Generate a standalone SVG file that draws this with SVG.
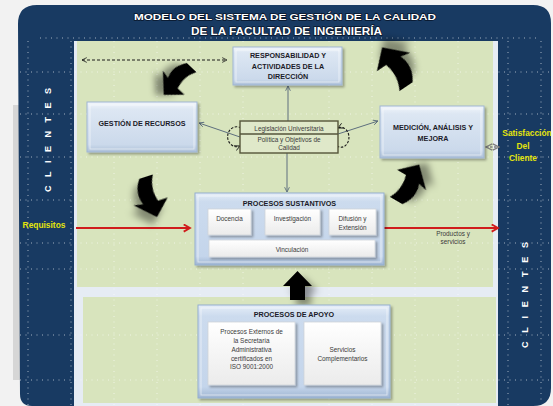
<svg xmlns="http://www.w3.org/2000/svg" width="553" height="406" viewBox="0 0 553 406">
<defs>
  <style>
    .t { font-family: "Liberation Sans", Arial, sans-serif; }
    .nt { font-family: "Liberation Sans", Arial, sans-serif; font-weight: bold; font-size: 7.2px; fill: #1b1b28; text-anchor: middle; }
    .st { font-family: "Liberation Sans", Arial, sans-serif; font-size: 6.4px; fill: #3a3a3a; text-anchor: middle; }
    .yl { font-family: "Liberation Sans", Arial, sans-serif; font-weight: bold; font-size: 8.4px; fill: #e4e40c; text-anchor: middle; }
    .cl { font-family: "Liberation Sans", Arial, sans-serif; font-weight: bold; font-size: 9px; fill: #ffffff; text-anchor: middle; }
    .box { fill: url(#gBox); stroke: #9fb6d4; stroke-width: 1; filter: url(#sh); }
    .bev { fill: none; stroke: #ffffff; stroke-opacity: 0.55; stroke-width: 1; }
    .cont { fill: url(#gCont); stroke: #93aed0; stroke-width: 1; filter: url(#sh); }
    .sub { fill: url(#gSub); stroke: #cfd4da; stroke-width: 0.8; filter: url(#sh); }
    .con { fill: none; stroke: #5e6f7e; stroke-width: 1; }
    .red { fill: none; stroke: #d01c1c; stroke-width: 2; }
    .grid { fill: none; stroke: #ffffff; stroke-opacity: 0.6; stroke-width: 1; stroke-dasharray: 1 4.5; }
    .blk { fill: #050505; filter: url(#ash); }
  </style>
  <linearGradient id="gBox" x1="0" y1="0" x2="0" y2="1">
    <stop offset="0" stop-color="#f2f6fb"/>
    <stop offset="0.15" stop-color="#dde7f3"/>
    <stop offset="0.85" stop-color="#cbd9eb"/>
    <stop offset="1" stop-color="#adc0d8"/>
  </linearGradient>
  <linearGradient id="gCont" x1="0" y1="0" x2="0" y2="1">
    <stop offset="0" stop-color="#e6eef8"/>
    <stop offset="0.12" stop-color="#ccdbee"/>
    <stop offset="0.88" stop-color="#c4d5eb"/>
    <stop offset="1" stop-color="#9fb5d2"/>
  </linearGradient>
  <linearGradient id="gSub" x1="0" y1="0" x2="0" y2="1">
    <stop offset="0" stop-color="#ffffff"/>
    <stop offset="1" stop-color="#ebebeb"/>
  </linearGradient>
  <filter id="sh" x="-20%" y="-20%" width="150%" height="160%">
    <feGaussianBlur in="SourceAlpha" stdDeviation="1.2"/>
    <feOffset dx="1.5" dy="2" result="b"/>
    <feFlood flood-color="#000000" flood-opacity="0.3"/>
    <feComposite in2="b" operator="in"/>
    <feMerge><feMergeNode/><feMergeNode in="SourceGraphic"/></feMerge>
  </filter>
  <filter id="ash" x="-50%" y="-50%" width="220%" height="220%">
    <feGaussianBlur in="SourceAlpha" stdDeviation="3.5"/>
    <feOffset dx="6" dy="6" result="b"/>
    <feFlood flood-color="#000000" flood-opacity="0.4"/>
    <feComposite in2="b" operator="in"/>
    <feMerge><feMergeNode/><feMergeNode in="SourceGraphic"/></feMerge>
  </filter>
  <marker id="mG" viewBox="0 0 10 10" refX="9" refY="5" markerWidth="6" markerHeight="6" orient="auto-start-reverse">
    <path d="M1,1 L9,5 L1,9" fill="none" stroke="#5e6f7e" stroke-width="1.5"/>
  </marker>
  <marker id="mR" viewBox="0 0 10 10" refX="8" refY="5" markerWidth="4.5" markerHeight="4.5" orient="auto-start-reverse">
    <path d="M1,1 L8,5 L1,9" fill="none" stroke="#d01c1c" stroke-width="2"/>
  </marker>
  <marker id="mK" viewBox="0 0 10 10" refX="9" refY="5" markerWidth="6" markerHeight="6" orient="auto-start-reverse">
    <path d="M1,1 L9,5 L1,9" fill="none" stroke="#1a1a1a" stroke-width="1.3"/>
  </marker>
  <marker id="mD" viewBox="0 0 10 10" refX="9" refY="5" markerWidth="6" markerHeight="6" orient="auto-start-reverse">
    <path d="M1,1 L9,5 L1,9" fill="none" stroke="#7d7d7d" stroke-width="1.6"/>
  </marker>
  <path id="carrow" d="M0,6 Q12,15 25,10 L23,19 L41,1 L26,-15 L26,-5 Q12,-1 0,-8 Z"/>
</defs>

<!-- background and frame -->
<rect x="0" y="0" width="553" height="406" fill="#f2f2f2"/>
<rect x="13" y="105" width="8" height="275" fill="#d6d6d6"/>
<path d="M18,24 Q18,5 37,5 L533,5 Q551,5 551,23 L551,388 Q551,406 533,406 L32,406 Q20,406 20,394 Z" fill="#183a62"/>
<rect x="74" y="41" width="424" height="365" fill="#e6ecf4"/>
<rect x="77" y="41" width="416" height="246" fill="#d8e4bd"/>
<rect x="83" y="297" width="413" height="106" fill="#d8e4bd"/>

<!-- dotted grid -->
<g id="grid">
  <path class="grid" d="M28,41 V406 M71,41 V406 M114,41 V406 M157,41 V406 M200,41 V406 M243,41 V406 M329,41 V406 M372,41 V406 M415,41 V406 M458,41 V406 M508,41 V406 M541,41 V400"/>
  <path class="grid" d="M20,72 H551 M20,114 H551 M20,157 H551 M20,200 H551 M20,243 H551 M20,269 H551 M20,335 H551 M20,380 H551 M40,38 H540"/>
</g>

<!-- title -->
<g id="title">
  <text class="t" x="285" y="19.5" font-size="9.2" font-weight="bold" fill="#ffffff" stroke="#08152a" stroke-width="1.3" paint-order="stroke" text-anchor="middle" textLength="302" lengthAdjust="spacingAndGlyphs">MODELO DEL SISTEMA DE GESTIÓN DE LA CALIDAD</text>
  <text class="t" x="286.5" y="35" font-size="10.5" font-weight="bold" fill="#ffffff" stroke="#08152a" stroke-width="1.3" paint-order="stroke" text-anchor="middle" textLength="191" lengthAdjust="spacingAndGlyphs">DE LA FACULTAD DE INGENIERÍA</text>
</g>

<!-- side labels -->
<g id="clientes-izq">
  <text class="cl" x="48" y="143" transform="rotate(-90 48 140)" textLength="104" lengthAdjust="spacing">CLIENTES</text>
</g>
<g id="clientes-der">
  <text class="cl" x="525" y="298" transform="rotate(-90 525 295)" textLength="106" lengthAdjust="spacing">CLIENTES</text>
</g>
<g id="requisitos">
  <text class="yl" x="44" y="228">Requisitos</text>
</g>
<g id="satisfaccion">
  <text class="yl" x="527" y="136">Satisfacción</text>
  <text class="yl" x="523" y="148.5">Del</text>
  <text class="yl" x="523" y="161">Cliente</text>
</g>

<!-- connectors -->
<g id="connectors">
  <line class="con" x1="288" y1="121" x2="288" y2="86" marker-end="url(#mG)"/>
  <line class="con" x1="287" y1="153" x2="287" y2="192" marker-end="url(#mG)"/>
  <line class="con" x1="240" y1="137" x2="199" y2="123" marker-end="url(#mG)"/>
  <line class="con" x1="338" y1="134" x2="378" y2="121" marker-end="url(#mG)"/>
  <line x1="82" y1="60" x2="227" y2="60" stroke="#1a1a1a" stroke-width="1" stroke-dasharray="3 2" marker-start="url(#mK)" marker-end="url(#mK)"/>
  <line x1="486" y1="147" x2="499" y2="147" stroke="#7d7d7d" stroke-width="1.3" stroke-dasharray="2.5 1.5" marker-start="url(#mD)" marker-end="url(#mD)"/>
  <path d="M241,128 A9,10 0 1 0 240,146" fill="none" stroke="#1a1a1a" stroke-width="1.1" stroke-dasharray="2.5 1.5" marker-end="url(#mK)"/>
  <path d="M337,146 A8,10 0 1 0 338,128" fill="none" stroke="#1a1a1a" stroke-width="1.1" stroke-dasharray="2.5 1.5" marker-end="url(#mK)"/>
  <line class="red" x1="76" y1="228" x2="190" y2="228" marker-end="url(#mR)"/>
  <line class="red" x1="384" y1="228" x2="498" y2="228" marker-end="url(#mR)"/>
  <text class="st" x="453" y="236" font-size="5.2">Productos y</text>
  <text class="st" x="453" y="244" font-size="5.2">servicios</text>
  <use href="#carrow" class="blk" transform="translate(191,67) rotate(133) scale(0.95)"/>
  <use href="#carrow" class="blk" transform="translate(145,177) rotate(72) scale(1.02)"/>
  <use href="#carrow" class="blk" transform="translate(397,201) rotate(-60) scale(1.04)"/>
  <use href="#carrow" class="blk" transform="translate(407,86) rotate(-124) scale(1.12)"/>
  <path class="blk" d="M283,286 L297.5,271 L312,286 L305,286 L305,300 L290,300 L290,286 Z"/>
</g>

<!-- nodes -->
<g id="responsabilidad">
  <rect class="box" x="233" y="47" width="109" height="38"/>
  <rect class="bev" x="236" y="50" width="103" height="32"/>
  <text class="nt" x="288" y="58">RESPONSABILIDAD Y</text>
  <text class="nt" x="288" y="68.5">ACTIVIDADES DE LA</text>
  <text class="nt" x="288" y="79">DIRECCIÓN</text>
</g>
<g id="gestion">
  <rect class="box" x="87" y="102" width="110" height="50"/>
  <rect class="bev" x="90" y="105" width="104" height="44"/>
  <text class="nt" x="142" y="125.5" font-size="7.6">GESTIÓN DE RECURSOS</text>
</g>
<g id="medicion">
  <rect class="box" x="380" y="106" width="104" height="52"/>
  <rect class="bev" x="383" y="109" width="98" height="46"/>
  <text class="nt" x="433" y="129.5">MEDICIÓN, ANÁLISIS Y</text>
  <text class="nt" x="433" y="140.5">MEJORA</text>
</g>
<g id="legislacion">
  <rect x="240" y="121" width="98" height="32" fill="#dfe8c9" stroke="#55553a" stroke-width="1.4"/>
  <line x1="240" y1="134" x2="338" y2="134" stroke="#55553a" stroke-width="1.6"/>
  <text class="st" x="289" y="130.5" font-size="6" fill="#4a4a30">Legislación Universitaria</text>
  <text class="st" x="289" y="142" font-size="6" fill="#3a3a2a">Política y Objetivos de</text>
  <text class="st" x="289" y="150" font-size="6" fill="#3a3a2a">Calidad</text>
</g>
<g id="procesos-sustantivos">
  <rect class="cont" x="195" y="193" width="189" height="72"/>
  <rect class="bev" x="198" y="196" width="183" height="66"/>
  <text class="nt" x="289.5" y="205.5">PROCESOS SUSTANTIVOS</text>
  <rect class="sub" x="208" y="209" width="43" height="26"/>
  <text class="st" x="229.5" y="220.5">Docencia</text>
  <rect class="sub" x="265" y="209" width="55" height="26"/>
  <text class="st" x="292.5" y="220.5">Investigación</text>
  <rect class="sub" x="329" y="209" width="47" height="26"/>
  <text class="st" x="352.5" y="220.5">Difusión y</text>
  <text class="st" x="352.5" y="229.5">Extensión</text>
  <rect class="sub" x="209" y="240" width="166" height="17"/>
  <text class="st" x="292" y="252">Vinculación</text>
</g>
<g id="procesos-apoyo">
  <rect class="cont" x="198" y="305" width="192" height="93"/>
  <rect class="bev" x="201" y="308" width="186" height="87"/>
  <text class="nt" x="294" y="317">PROCESOS DE APOYO</text>
  <rect class="sub" x="208" y="322" width="87" height="63"/>
  <text class="st" x="251.5" y="334">Procesos Externos de</text>
  <text class="st" x="251.5" y="342.5">la Secretaría</text>
  <text class="st" x="251.5" y="351.5">Administrativa</text>
  <text class="st" x="251.5" y="360.5">certificados en</text>
  <text class="st" x="251.5" y="369">ISO 9001:2000</text>
  <rect class="sub" x="304" y="322" width="77" height="63"/>
  <text class="st" x="342.5" y="352">Servicios</text>
  <text class="st" x="342.5" y="361">Complementarios</text>
</g>
</svg>
